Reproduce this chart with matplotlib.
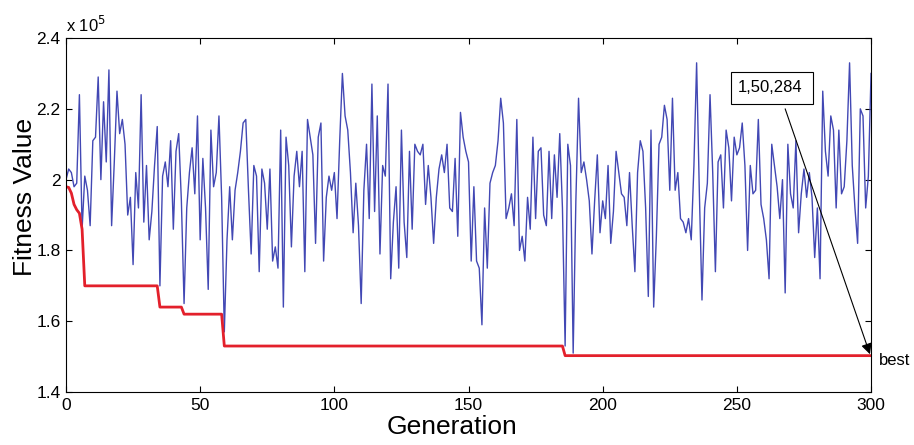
import numpy as np
import matplotlib
matplotlib.use("Agg")
import matplotlib.pyplot as plt
from matplotlib.patches import Rectangle

plt.rcParams['font.family'] = ['Liberation Sans', 'DejaVu Sans']

# fitness of each generation (x 10^5)
fitness = [
    2.00, 2.03, 2.02, 1.98, 1.99, 2.24, 1.86, 2.01, 1.97, 1.87, 2.11, 2.12, 2.29,
    2.00, 2.22, 2.05, 2.31, 1.87, 2.05, 2.25, 2.13, 2.17, 2.10, 1.90, 1.95, 1.76,
    2.02, 1.92, 2.24, 1.88, 2.04, 1.83, 1.91, 2.04, 2.15, 1.70, 2.01, 2.05, 1.98,
    2.11, 1.86, 2.08, 2.13, 1.94, 1.65, 1.92, 2.02, 2.09, 1.96, 2.18, 1.83,
    2.06, 1.92, 1.69, 2.14, 1.98, 2.02, 2.18, 1.95, 1.57, 1.83, 1.98, 1.83, 1.97,
    2.02, 2.08, 2.16, 2.17, 1.97, 1.79, 2.04, 2.01, 1.74, 2.03, 1.99, 1.86,
    2.03, 1.77, 1.81, 1.75, 2.14, 1.64, 2.12, 2.04, 1.81, 2.01, 2.08, 1.98, 2.08,
    1.74, 2.17, 2.12, 2.07, 1.82, 2.12, 2.16, 1.77, 1.95, 2.01, 1.97, 2.02,
    1.89, 2.11, 2.30, 2.18, 2.14, 2.02, 1.85, 1.99, 1.87, 1.65, 1.97, 2.10, 1.89,
    2.27, 1.91, 2.18, 1.79, 2.04, 2.01, 2.27, 1.72, 1.88, 1.98, 1.75, 2.14, 1.88,
    1.78, 2.08, 1.86, 2.10, 2.08, 2.07, 2.10, 1.93, 2.04, 1.95, 1.82, 1.95, 2.03,
    2.07, 2.02, 2.10, 1.92, 1.91, 2.06, 1.84, 2.19, 2.12, 2.08, 2.05, 1.77,
    1.98, 1.77, 1.75, 1.59, 1.92, 1.75, 1.99, 2.02, 2.04, 2.11, 2.23, 2.16, 1.89,
    1.92, 1.96, 1.87, 2.17, 1.80, 1.84, 1.77, 1.95, 1.86, 2.12, 1.89, 2.08,
    2.09, 1.90, 1.87, 2.08, 1.89, 2.07, 1.95, 2.13, 1.92, 1.53, 2.10, 2.04, 1.51,
    1.94, 2.23, 2.02, 2.05, 2.00, 1.94, 1.79, 1.94, 2.07, 1.85, 1.94, 1.89, 2.04,
    1.82, 1.91, 2.08, 2.02, 1.96, 1.95, 1.87, 2.02, 1.87, 1.74, 2.02, 2.11, 2.08,
    1.92, 1.67, 2.14, 1.64, 1.84, 2.10, 2.12, 2.21, 2.17, 1.97, 2.23, 1.97,
    2.02, 1.89, 1.88, 1.85, 1.89, 1.83, 2.04, 2.33, 1.97, 1.66, 1.92, 1.99, 2.24,
    2.02, 1.74, 2.05, 2.07, 1.92, 2.14, 2.09, 1.94, 2.12, 2.07, 2.09, 2.16,
    2.04, 1.80, 2.04, 1.96, 1.97, 2.17, 1.93, 1.89, 1.83, 1.72, 2.10, 2.04, 1.98,
    1.89, 2.00, 1.68, 2.10, 1.96, 1.92, 2.11, 1.85, 1.96, 2.03, 1.95, 2.02, 1.95,
    1.78, 1.92, 1.72, 2.25, 2.08, 2.01, 2.18, 2.14, 1.92, 2.14, 1.96, 1.98, 2.11,
    2.33, 2.04, 1.92, 1.82, 2.20, 2.18, 1.92, 2.01, 2.30,
]

# best-so-far curve: generation where it changes and its value
best_gen = [0, 1, 2, 3, 4, 5, 6, 7, 34, 35, 43, 44, 58, 59, 185, 186, 300]
best_val = [1.98, 1.978, 1.962, 1.93, 1.915, 1.905, 1.86, 1.70, 1.70, 1.64,
            1.64, 1.62, 1.62, 1.53, 1.53, 1.50284, 1.50284]

xticks = [0, 50, 100, 150, 200, 250, 300]
yticks = [1.4, 1.6, 1.8, 2.0, 2.2, 2.4]
ylabels = ['1.4', '1.6', '1.8', '2', '2.2', '2.4']
best_text = '1,50,284'

gens = np.arange(len(fitness))

fig = plt.figure(figsize=(9.14, 4.45), dpi=100)
ax = fig.add_axes([0.0722, 0.119, 0.8808, 0.7955])

ax.plot(gens, fitness, color='#4248b4', lw=1.0)
ax.plot(best_gen, best_val, color='#e3202b', lw=2)

ax.set_xlim(0, 300)
ax.set_ylim(1.4, 2.4)
ax.set_xticks(xticks)
ax.set_yticks(yticks)
ax.set_yticklabels(ylabels)
ax.tick_params(direction='in', top=True, right=True, labelsize=12.5, length=4,
               pad=4)
for s in ax.spines.values():
    s.set_linewidth(0.8)

ax.set_xlabel('Generation', fontsize=19)
ax.xaxis.set_label_coords(0.48, -0.065)
ax.set_ylabel('Fitness Value', fontsize=19)
ax.yaxis.set_label_coords(-0.036, 0.55)
ax.text(0.0, 1.01, r'x 10$^5$', transform=ax.transAxes, fontsize=12,
        ha='left', va='bottom')

# text box with the best value, arrow to the last point
ax.add_patch(Rectangle((247.9, 2.214), 30.5, 0.09, fc='white', ec='black',
                       lw=0.8, zorder=4))
ax.text(250.5, 2.259, best_text, fontsize=12, ha='left', va='center', zorder=5)
ax.annotate('', xy=(299.6, best_val[-1] + 0.004), xytext=(268, 2.2),
            arrowprops=dict(arrowstyle='-|>', color='black', lw=0.8,
                            mutation_scale=16, shrinkA=0, shrinkB=0),
            zorder=5)
ax.text(303, best_val[-1] - 0.013, 'best', fontsize=12, ha='left',
        va='center', clip_on=False)

fig.savefig('out.png', dpi=100)
